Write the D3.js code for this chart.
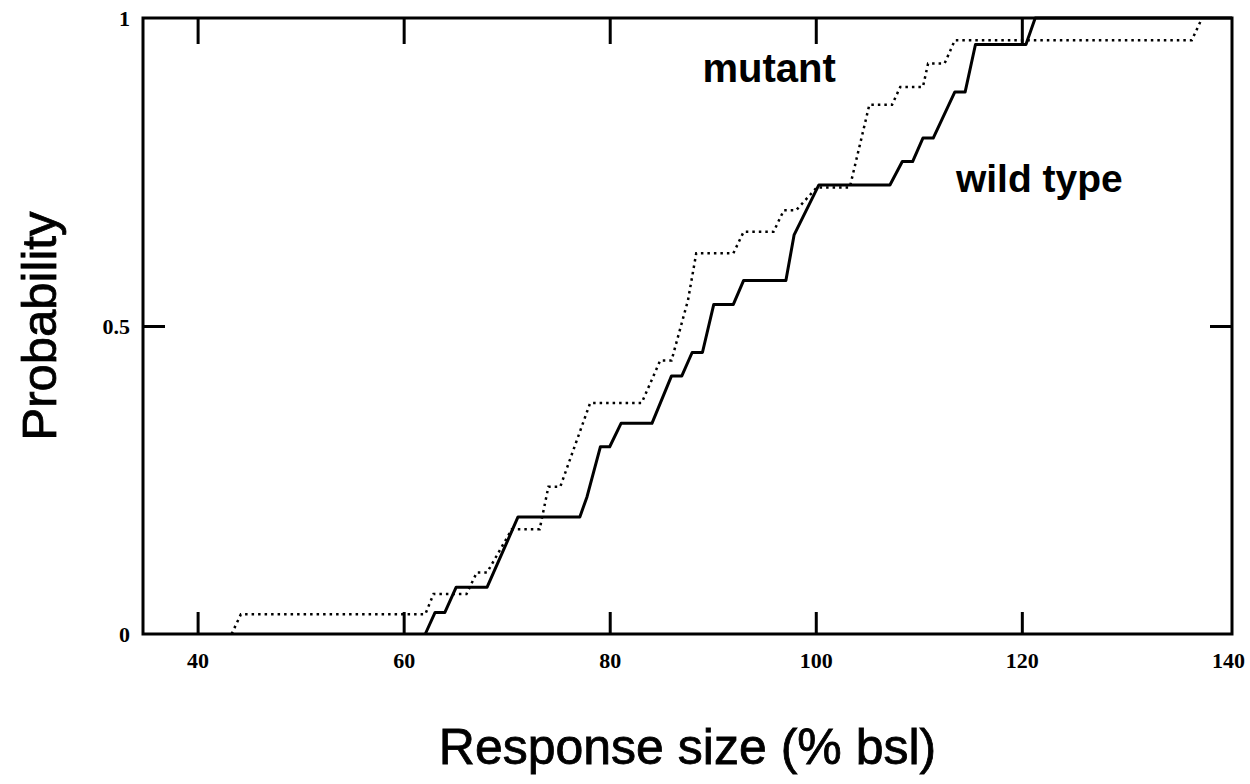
<!DOCTYPE html>
<html>
<head>
<meta charset="utf-8">
<script src="https://cdn.jsdelivr.net/npm/d3@7"></script>
<style>
  body { margin: 0; background: #fff; }
  svg { display: block; }
</style>
</head>
<body>
<div id="wrapper"></div>
<script>
// cumulative probability, wild type (solid)
const wildTypeX = [62.1, 63.05, 64.0, 65.1, 68.1, 71.1, 77.1, 77.8, 79.1, 80.0, 81.1, 84.1, 86.0, 87.0, 88.0, 89.0,
    90.1, 92.0, 93.0, 97.1, 97.9, 100.3, 107.2, 108.4, 109.4, 110.4, 111.4, 113.5, 114.5, 115.5, 120.4, 121.3, 140.4];
const wildTypeP = [0, 0.035, 0.035, 0.076, 0.076, 0.19, 0.19, 0.223, 0.304, 0.304, 0.342, 0.342, 0.419, 0.419, 0.457, 0.457,
    0.535, 0.535, 0.574, 0.574, 0.648, 0.729, 0.729, 0.767, 0.767, 0.805, 0.805, 0.88, 0.88, 0.957, 0.957, 1, 1];

// cumulative probability, mutant (dotted)
const mutantX = [43.3, 44.2, 62.1, 62.9, 66.1, 67.1, 68.1, 70.5, 73.2, 74.05, 75.2, 78.1, 83.1, 84.9, 86.0, 87.6,
    88.4, 92.0, 93.0, 95.9, 96.9, 98.1, 100.1, 103.3, 105.2, 107.4, 108.2, 110.4, 110.9, 112.5, 113.5, 136.5, 137.5];
const mutantP = [0, 0.032, 0.032, 0.065, 0.065, 0.1, 0.1, 0.17, 0.17, 0.239, 0.239, 0.375, 0.375, 0.444, 0.444, 0.542,
    0.618, 0.618, 0.653, 0.653, 0.688, 0.688, 0.725, 0.725, 0.859, 0.859, 0.888, 0.888, 0.926, 0.926, 0.964, 0.964, 1];

const xTicks = [40, 60, 80, 100, 120, 140];
const yTicks = [0, 0.5, 1];
const yTickLabels = ['0', '0.5', '1'];

const width = 1250;
const height = 784;
const margin = { top: 18, right: 18, bottom: 150, left: 143 };
const boundWidth = width - margin.left - margin.right;
const boundHeight = height - margin.top - margin.bottom;

const svg = d3.select('#wrapper')
    .append('svg')
    .attr('width', width)
    .attr('height', height);

const bounds = svg.append('g')
    .attr('transform', `translate(${margin.left},${margin.top})`);

const xScale = d3.scaleLinear()
    .domain([34.7, 140.4])
    .range([0, boundWidth]);

const yScale = d3.scaleLinear()
    .domain([0, 1])
    .range([boundHeight, 0]);

const tickFont = 'Liberation Serif, Times New Roman, serif';
const titleFont = 'Liberation Sans, Arial, Helvetica, sans-serif';

// axes, ticks pointing inward
const xAxis = bounds.append('g')
    .attr('transform', `translate(0,${boundHeight})`)
    .call(d3.axisBottom(xScale).tickValues(xTicks).tickSizeInner(-22).tickSizeOuter(0).tickPadding(18));

const xAxisTop = bounds.append('g')
    .call(d3.axisTop(xScale).tickValues(xTicks.slice(0, -1)).tickSizeInner(-26).tickSizeOuter(0).tickFormat(''));

const yAxis = bounds.append('g')
    .call(d3.axisLeft(yScale).tickValues(yTicks).tickSizeInner(-22).tickSizeOuter(0).tickPadding(13)
        .tickFormat((d, i) => yTickLabels[i]));

const yAxisRight = bounds.append('g')
    .attr('transform', `translate(${boundWidth},0)`)
    .call(d3.axisRight(yScale).tickValues([0.5]).tickSizeInner(-22).tickSizeOuter(0).tickFormat(''));

bounds.selectAll('.domain').remove();
bounds.selectAll('.tick line')
    .attr('stroke', '#000')
    .attr('stroke-width', 3);
bounds.selectAll('.tick text')
    .attr('font-family', tickFont)
    .attr('font-weight', 'bold')
    .attr('font-size', 22)
    .attr('fill', '#000');
xAxis.selectAll('.tick').filter(d => d === 140).select('line').remove();
yAxis.selectAll('.tick').filter(d => d === 0 || d === 1).select('line').remove();

// frame
bounds.append('rect')
    .attr('width', boundWidth)
    .attr('height', boundHeight)
    .attr('fill', 'none')
    .attr('stroke', '#000')
    .attr('stroke-width', 3);

const lineGenerator = d3.line()
    .x(d => xScale(d[0]))
    .y(d => yScale(d[1]));

const mutant = mutantX.map((x, i) => [x, mutantP[i]]);
const wildType = wildTypeX.map((x, i) => [x, wildTypeP[i]]);

bounds.append('path')
    .attr('d', lineGenerator(mutant))
    .attr('fill', 'none')
    .attr('stroke', '#000')
    .attr('stroke-width', 2.5)
    .attr('stroke-dasharray', '2.5,4');

bounds.append('path')
    .attr('d', lineGenerator(wildType))
    .attr('fill', 'none')
    .attr('stroke', '#000')
    .attr('stroke-width', 3)
    .attr('stroke-linejoin', 'round');

// labels on the curves
bounds.append('text')
    .attr('x', xScale(89.0))
    .attr('y', 64)
    .attr('font-family', titleFont)
    .attr('font-weight', 'bold')
    .attr('font-size', 40)
    .text('mutant');

bounds.append('text')
    .attr('x', xScale(113.6))
    .attr('y', 174)
    .attr('font-family', titleFont)
    .attr('font-weight', 'bold')
    .attr('font-size', 39)
    .text('wild type');

// axis titles
svg.append('text')
    .attr('x', margin.left + boundWidth / 2)
    .attr('y', 764)
    .attr('text-anchor', 'middle')
    .attr('font-family', titleFont)
    .attr('font-size', 50)
    .attr('stroke', '#000')
    .attr('stroke-width', 0.8)
    .text('Response size (% bsl)');

svg.append('text')
    .attr('transform', `translate(56,${margin.top + boundHeight / 2}) rotate(-90)`)
    .attr('text-anchor', 'middle')
    .attr('font-family', titleFont)
    .attr('font-size', 49)
    .attr('stroke', '#000')
    .attr('stroke-width', 0.8)
    .text('Probability');
</script>
</body>
</html>
